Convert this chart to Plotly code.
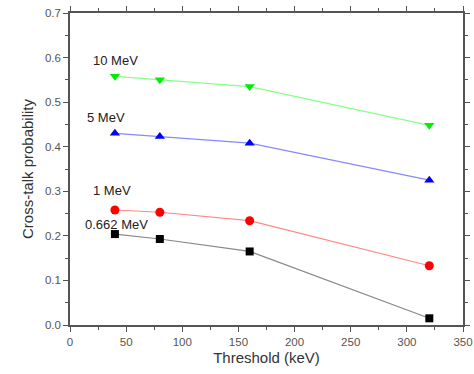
import plotly.graph_objects as go

thresholds = [40, 80, 160, 320]
p_0662 = [0.204, 0.193, 0.165, 0.015]
p_1 = [0.258, 0.253, 0.234, 0.133]
p_5 = [0.430, 0.423, 0.408, 0.325]
p_10 = [0.558, 0.550, 0.535, 0.448]

series = [
    ("0.662 MeV", p_0662, "#000000", "#888888", "square", 12, 0.226),
    ("1 MeV", p_1, "#ff0000", "#ff8888", "circle", 19, 0.301),
    ("5 MeV", p_5, "#0000ff", "#8888ff", "triangle-up", 13, 0.466),
    ("10 MeV", p_10, "#00ee00", "#88ff88", "triangle-down", 19, 0.593),
]

FONT = "Arial, Liberation Sans"
fig = go.Figure()
for name, ys, mc, lc, sym, lx, ly in series:
    fig.add_trace(go.Scatter(
        x=thresholds, y=ys, mode="lines+markers", name=name,
        line=dict(color=lc, width=1.2),
        marker=dict(color=mc, symbol=sym, size=9 if sym != "square" else 8),
    ))
    fig.add_annotation(x=lx, y=ly, text=name, showarrow=False, xanchor="left",
                       yanchor="middle", font=dict(size=13, color="#222222", family=FONT))

base = dict(showgrid=False, zeroline=False, tickcolor="#555555", ticklen=5, tickwidth=1,
            automargin=False, showline=True, mirror="ticks", linecolor="#555555",
            linewidth=1.5)

fig.update_layout(
    width=474, height=374,
    margin=dict(l=70, r=11, t=13, b=49),
    paper_bgcolor="white", plot_bgcolor="white",
    showlegend=False,
    xaxis=dict(range=[0, 350], dtick=50, ticks="outside",
               tickfont=dict(size=11.5, color="#555555", family=FONT),
               minor=dict(dtick=25, ticks="outside", ticklen=3, tickcolor="#555555"),
               title=dict(text="Threshold (keV)", standoff=6,
                          font=dict(size=15, color="#333333", family=FONT)),
               **base),
    yaxis=dict(range=[0, 0.7], dtick=0.1, tickformat=".1f", ticks="outside",
               tickfont=dict(size=11.5, color="#555555", family=FONT),
               minor=dict(dtick=0.05, ticks="outside", ticklen=3, tickcolor="#555555"),
               title=dict(text="Cross-talk probability", standoff=8,
                          font=dict(size=15, color="#333333", family=FONT)),
               **base),
)

fig.write_html("out.html")
